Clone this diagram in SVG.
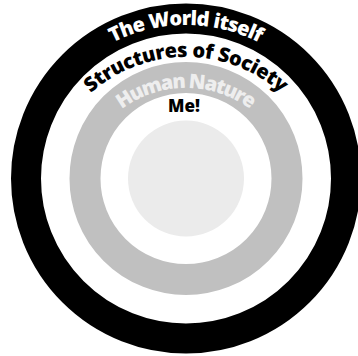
<svg xmlns="http://www.w3.org/2000/svg" width="358" height="356" viewBox="0 0 358 356">
  <style>
    .lbl { font-family: "Open Sans", "DejaVu Sans", sans-serif; font-weight: 800; font-size: 20px; }
  </style>
  <defs>
    <path id="arcWorld" d="M 26,185 A 160,160 0 0 1 346,185"/>
    <path id="arcSociety" d="M 43,200 A 143,143 0 0 1 329,200"/>
    <path id="arcHuman" d="M 78,196 A 108,108 0 0 1 294,196"/>
  </defs>
  <rect width="358" height="356" fill="#ffffff"/>
  <g id="world">
    <circle cx="186" cy="178.5" r="160" fill="none" stroke="#000000" stroke-width="30"/>
    <text class="lbl" fill="#ffffff" text-anchor="middle"><textPath href="#arcWorld" startOffset="50%" textLength="152">The World itself</textPath></text>
  </g>
  <g id="society">
    <text class="lbl" fill="#000000" text-anchor="middle"><textPath href="#arcSociety" startOffset="50%" textLength="208">Structures of Society</textPath></text>
  </g>
  <g id="human-nature">
    <circle cx="186" cy="178.5" r="101" fill="none" stroke="#c0c0c0" stroke-width="31"/>
    <text class="lbl" fill="#eeeeee" text-anchor="middle"><textPath href="#arcHuman" startOffset="50%" textLength="138">Human Nature</textPath></text>
  </g>
  <g id="me">
    <circle cx="186" cy="178.5" r="58" fill="#ebebeb"/>
    <text class="lbl" x="184" y="112" style="font-size:17px" fill="#000000" text-anchor="middle">Me!</text>
  </g>
  <g id="connectors"/>
</svg>
